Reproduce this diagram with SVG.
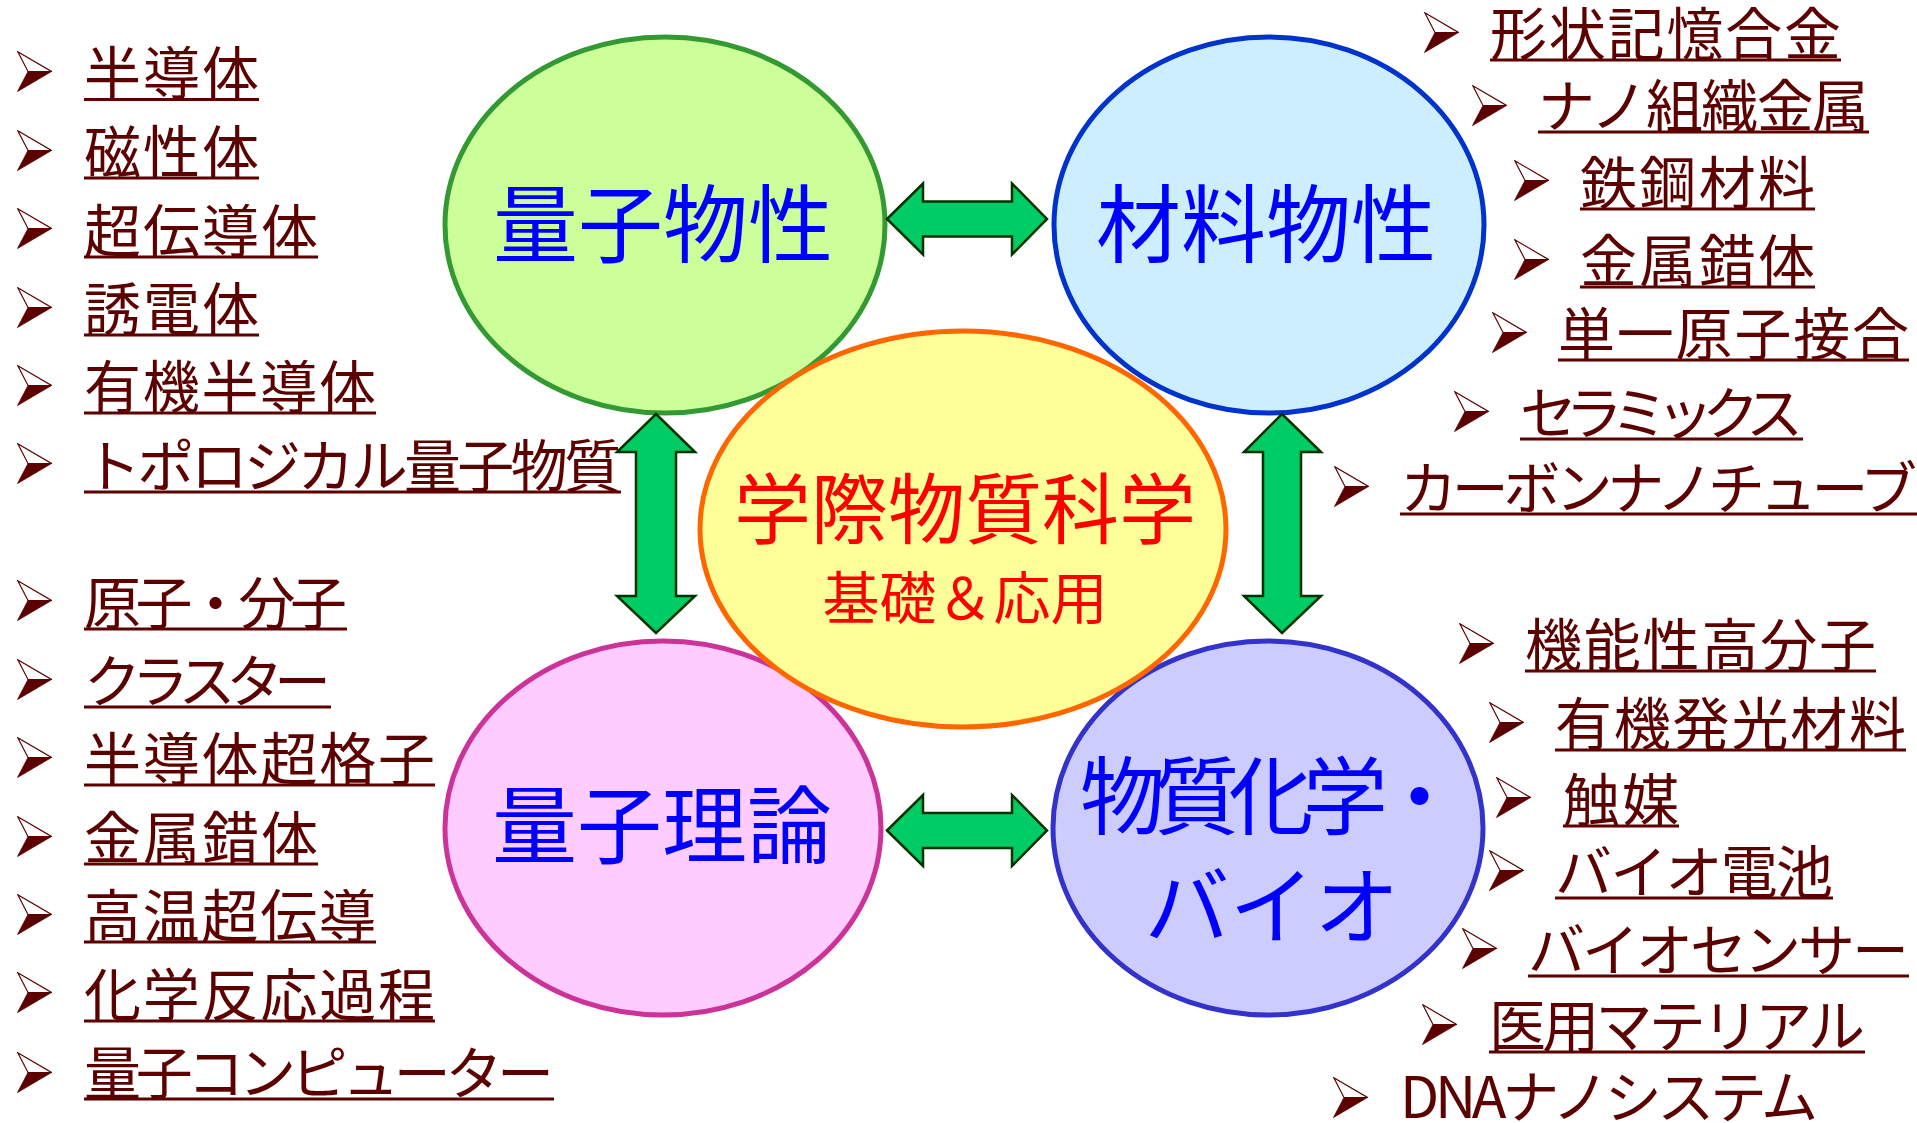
<svg xmlns="http://www.w3.org/2000/svg" xmlns:xlink="http://www.w3.org/1999/xlink" width="1917" height="1123" viewBox="0 0 1917 1123">
<style>
  .node { stroke-width: 5; }
  .title { font-family: "Noto Sans CJK JP", "Noto Sans", sans-serif; fill: #0000ff; font-size: 85px; text-anchor: middle; }
  .title-start { font-family: "Noto Sans CJK JP", "Noto Sans", sans-serif; fill: #0000ff; font-size: 85px; text-anchor: start; }
  .center { font-family: "Noto Sans CJK JP", "Noto Sans", sans-serif; fill: #ff0000; text-anchor: middle; }
  .item { font-family: "Noto Sans CJK JP", "Noto Sans", sans-serif; fill: #5c0000; font-size: 57px; }
  .ul { stroke: #5c0000; stroke-width: 3; }
  .arrow { fill: #00cc66; stroke: #003300; stroke-width: 2.5; stroke-linejoin: miter; }
</style>
<defs>
  <symbol id="bullet" viewBox="0 0 35 41">
    <path d="M0.8,0.8 L34.5,20.5 L11,20.5 Z" fill="#ffffff" stroke="#5c0000" stroke-width="1.2" stroke-linejoin="miter"/>
    <path d="M11,20.5 L34.5,20.5 L0.5,40.5 Z" fill="#5c0000" stroke="#5c0000" stroke-width="0.8"/>
  </symbol>
</defs>
<rect width="1917" height="1123" fill="#ffffff"/>

<g id="node-ryoshi-bussei">
  <ellipse class="node" cx="665" cy="225" rx="220" ry="188" fill="#ccff99" stroke="#339933"/>
  <text class="title" x="663" y="256">量子物性</text>
</g>
<g id="node-zairyo-bussei">
  <ellipse class="node" cx="1269" cy="225" rx="215" ry="188" fill="#cceeff" stroke="#0033cc"/>
  <text class="title" x="1266" y="256">材料物性</text>
</g>
<g id="node-ryoshi-riron">
  <ellipse class="node" cx="663" cy="828" rx="218" ry="187" fill="#ffccff" stroke="#cc3399"/>
  <text class="title" x="662" y="857">量子理論</text>
</g>
<g id="node-busshitsu-kagaku">
  <ellipse class="node" cx="1268" cy="828" rx="215" ry="187" fill="#ccccff" stroke="#3333cc"/>
  <text class="title-start" x="1080" y="828" textLength="382">物質化学・</text>
  <text class="title" x="1272" y="938">バイオ</text>
</g>
<g id="node-gakusai">
  <ellipse class="node" cx="963" cy="529" rx="263" ry="198" fill="#ffff99" stroke="#ff6600"/>
  <text class="center" x="965" y="538" font-size="77">学際物質科学</text>
  <text class="center" x="965" y="619" font-size="57">基礎＆応用</text>
</g>

<g id="connectors">
  <path class="arrow" d="M887,219 L923,183.5 L923,201.5 L1012,201.5 L1012,183.5 L1047,219 L1012,254.5 L1012,236.5 L923,236.5 L923,254.5 Z"/>
  <path class="arrow" d="M887,830.5 L923,795 L923,813 L1012,813 L1012,795 L1047,830.5 L1012,866 L1012,848 L923,848 L923,866 Z"/>
  <path class="arrow" d="M656,414 L695,452 L676,452 L676,596 L695,596 L656,633 L617,596 L636,596 L636,452 L617,452 Z"/>
  <path class="arrow" d="M1282,414 L1321,452 L1301,452 L1301,596 L1321,596 L1282,633 L1244,596 L1263,596 L1263,452 L1244,452 Z"/>
</g>

<g id="list-left-top">
  <g id="item-l1"><use xlink:href="#bullet" x="17" y="51" width="35" height="41"/><text class="item" x="84" y="94" textLength="175">半導体</text><line class="ul" x1="84" y1="99.5" x2="259" y2="99.5"/></g>
  <g id="item-l2"><use xlink:href="#bullet" x="17" y="130" width="35" height="41"/><text class="item" x="84" y="172.5" textLength="175">磁性体</text><line class="ul" x1="84" y1="178" x2="259" y2="178"/></g>
  <g id="item-l3"><use xlink:href="#bullet" x="17" y="208" width="35" height="41"/><text class="item" x="84" y="251.5" textLength="234">超伝導体</text><line class="ul" x1="84" y1="257" x2="318" y2="257"/></g>
  <g id="item-l4"><use xlink:href="#bullet" x="17" y="287" width="35" height="41"/><text class="item" x="84" y="329.5" textLength="175">誘電体</text><line class="ul" x1="84" y1="335" x2="259" y2="335"/></g>
  <g id="item-l5"><use xlink:href="#bullet" x="17" y="365" width="35" height="41"/><text class="item" x="84" y="407.5" textLength="292">有機半導体</text><line class="ul" x1="84" y1="413" x2="376" y2="413"/></g>
  <g id="item-l6"><use xlink:href="#bullet" x="17" y="443" width="35" height="41"/><text class="item" x="84" y="486.5" textLength="537">トポロジカル量子物質</text><line class="ul" x1="84" y1="492" x2="621" y2="492"/></g>
</g>

<g id="list-left-bottom">
  <g id="item-l7"><use xlink:href="#bullet" x="17" y="580" width="35" height="41"/><text class="item" x="84" y="623.5" textLength="263">原子・分子</text><line class="ul" x1="84" y1="629" x2="347" y2="629"/></g>
  <g id="item-l8"><use xlink:href="#bullet" x="17" y="659" width="35" height="41"/><text class="item" x="84" y="701.5" textLength="247">クラスター</text><line class="ul" x1="84" y1="707" x2="331" y2="707"/></g>
  <g id="item-l9"><use xlink:href="#bullet" x="17" y="737" width="35" height="41"/><text class="item" x="84" y="779.5" textLength="351">半導体超格子</text><line class="ul" x1="84" y1="785" x2="435" y2="785"/></g>
  <g id="item-l10"><use xlink:href="#bullet" x="17" y="816" width="35" height="41"/><text class="item" x="84" y="858.5" textLength="234">金属錯体</text><line class="ul" x1="84" y1="864" x2="318" y2="864"/></g>
  <g id="item-l11"><use xlink:href="#bullet" x="17" y="894" width="35" height="41"/><text class="item" x="84" y="936.5" textLength="292">高温超伝導</text><line class="ul" x1="84" y1="942" x2="376" y2="942"/></g>
  <g id="item-l12"><use xlink:href="#bullet" x="17" y="972" width="35" height="41"/><text class="item" x="84" y="1015.5" textLength="351">化学反応過程</text><line class="ul" x1="84" y1="1021" x2="435" y2="1021"/></g>
  <g id="item-l13"><use xlink:href="#bullet" x="17" y="1052" width="35" height="41"/><text class="item" x="84" y="1093.5" textLength="470">量子コンピューター</text><line class="ul" x1="84" y1="1099" x2="554" y2="1099"/></g>
</g>

<g id="list-right-top">
  <g id="item-r1"><use xlink:href="#bullet" x="1424" y="12" width="35" height="41"/><text class="item" x="1490" y="54.5" textLength="351">形状記憶合金</text><line class="ul" x1="1490" y1="60" x2="1841" y2="60"/></g>
  <g id="item-r2"><use xlink:href="#bullet" x="1472" y="85" width="35" height="41"/><text class="item" x="1538" y="126.5" textLength="331">ナノ組織金属</text><line class="ul" x1="1538" y1="132" x2="1869" y2="132"/></g>
  <g id="item-r3"><use xlink:href="#bullet" x="1514" y="160" width="35" height="41"/><text class="item" x="1580" y="203.5" textLength="235">鉄鋼材料</text><line class="ul" x1="1580" y1="209" x2="1815" y2="209"/></g>
  <g id="item-r4"><use xlink:href="#bullet" x="1514" y="239" width="35" height="41"/><text class="item" x="1580" y="281.5" textLength="235">金属錯体</text><line class="ul" x1="1580" y1="287" x2="1815" y2="287"/></g>
  <g id="item-r5"><use xlink:href="#bullet" x="1492" y="312" width="35" height="41"/><text class="item" x="1558" y="354.5" textLength="351">単一原子接合</text><line class="ul" x1="1558" y1="360" x2="1909" y2="360"/></g>
  <g id="item-r6"><use xlink:href="#bullet" x="1454" y="391" width="35" height="41"/><text class="item" x="1520" y="433.5" textLength="283">セラミックス</text><line class="ul" x1="1520" y1="439" x2="1803" y2="439"/></g>
  <g id="item-r7"><use xlink:href="#bullet" x="1334" y="466" width="35" height="41"/><text class="item" x="1400" y="508.5" textLength="517">カーボンナノチューブ</text><line class="ul" x1="1400" y1="514" x2="1917" y2="514"/></g>
</g>

<g id="list-right-bottom">
  <g id="item-r8"><use xlink:href="#bullet" x="1459" y="623" width="35" height="41"/><text class="item" x="1525" y="665.5" textLength="351">機能性高分子</text><line class="ul" x1="1525" y1="671" x2="1876" y2="671"/></g>
  <g id="item-r9"><use xlink:href="#bullet" x="1489" y="702" width="35" height="41"/><text class="item" x="1555" y="744.5" textLength="351">有機発光材料</text><line class="ul" x1="1555" y1="750" x2="1906" y2="750"/></g>
  <g id="item-r10"><use xlink:href="#bullet" x="1496" y="777" width="35" height="41"/><text class="item" x="1563" y="820.5" textLength="116">触媒</text><line class="ul" x1="1563" y1="826" x2="1679" y2="826"/></g>
  <g id="item-r11"><use xlink:href="#bullet" x="1489" y="850" width="35" height="41"/><text class="item" x="1555" y="892.5" textLength="278">バイオ電池</text><line class="ul" x1="1555" y1="898" x2="1833" y2="898"/></g>
  <g id="item-r12"><use xlink:href="#bullet" x="1462" y="928" width="35" height="41"/><text class="item" x="1528" y="970.5" textLength="381">バイオセンサー</text><line class="ul" x1="1528" y1="976" x2="1909" y2="976"/></g>
  <g id="item-r13"><use xlink:href="#bullet" x="1422" y="1004" width="35" height="41"/><text class="item" x="1489" y="1046.5" textLength="376">医用マテリアル</text><line class="ul" x1="1489" y1="1052" x2="1865" y2="1052"/></g>
  <g id="item-r14"><use xlink:href="#bullet" x="1333" y="1077" width="35" height="41"/><text class="item" x="1400" y="1118" textLength="418">DNAナノシステム</text></g>
</g>
</svg>
